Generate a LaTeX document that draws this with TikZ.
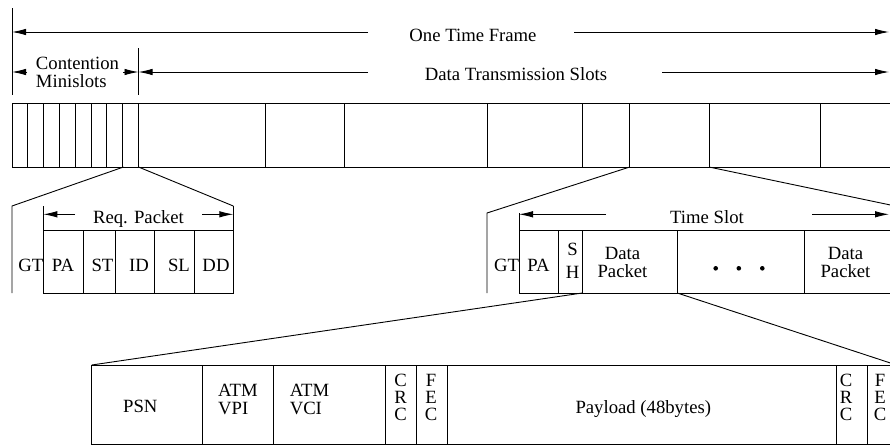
\documentclass[tikz,border=0pt]{standalone}
\usepackage{fontspec}
\setmainfont{Liberation Serif}
\usetikzlibrary{arrows.meta}
% stacked lines; the box baseline is the baseline of the last line
\newcommand\stackc[1]{\begin{tabular}[b]{@{}c@{}}#1\end{tabular}}
\newcommand\stackl[1]{\begin{tabular}[b]{@{}l@{}}#1\end{tabular}}
\begin{document}
\begin{tikzpicture}[x=1pt,y=-1pt,line width=0.9pt,
  lbl/.style={inner sep=0pt,anchor=base,font=\fontsize{18.7}{18.7}\selectfont},
  lbls/.style={lbl,font=\fontsize{18.7}{#1}\selectfont},
  dimarrow/.style={-{Latex[length=14pt,width=6.5pt]}},
  dot/.style={circle,fill,inner sep=0pt,minimum size=4.6pt}]
\useasboundingbox (0,0) rectangle (890,445);
\clip (0,0) rectangle (890,445);

% ---------- frame dimension lines ----------
\coordinate (fL) at (12,8);
\coordinate (fLb) at (12,95);
\coordinate (cR) at (138.5,48);
\coordinate (cRb) at (138.5,95);
\draw (fL) -- (fLb);
\draw (cR) -- (cRb);

\node[lbl] (otf) at (473,41) {One Time Frame};
\coordinate (otfL) at (12,32);
\coordinate (otfR) at (889,32);
\draw[dimarrow] (368,32) -- (otfL);
\draw[dimarrow] (574,32) -- (otfR);

\node[lbls=15,anchor=base west] (cms) at (35.5,87) {\stackl{Contention\\Minislots}};
\coordinate (cmsL) at (12,72);
\coordinate (cmsR) at (138.5,72);
\draw[dimarrow] (27,72) -- (cmsL);
\draw[dimarrow] (123,72) -- (cmsR);

\node[lbl] (dts) at (516,80) {Data Transmission Slots};
\coordinate (dtsR) at (889,72);
\draw[dimarrow] (368,72) -- (cmsR);
\draw[dimarrow] (662,72) -- (dtsR);

% ---------- time frame ----------
\draw (12,103) rectangle (900,167);
\foreach \i in {1,...,8} \draw ({12+15.8125*\i},103) -- ++(0,64);
\foreach \x in {265.5,344.7,487,582,629.7,709,820} \draw (\x,103) -- (\x,167);

% ---------- request packet ----------
\coordinate (ms7) at (123.5,167);
\coordinate (ms8) at (138.5,167);
\coordinate (rqL) at (12,206);
\coordinate (rqLb) at (12,293);
\coordinate (rqR) at (233.3,206);
\draw (ms7) -- (rqL) -- (rqLb);
\draw (ms8) -- (rqR);
\draw (43.3,206) -- (43.3,293.3);
\draw (43.3,230.7) rectangle (rqR |- 0,293.3);
\draw (rqR) -- (233.3,230.7);
\foreach \x in {83.3,115.3,154.3,194.3} \draw (\x,230.7) -- (\x,293.3);

\node[lbl] (rqp) at (138.5,223.3) {Req. Packet};
\draw[dimarrow] (75,214.3) -- (43.3,214.3);
\draw[dimarrow] (202,214.3) -- (233.3,214.3);

\node[lbl] (rGT) at (30.8,271) {GT};
\node[lbl] (rPA) at (63,271) {PA};
\node[lbl] (rST) at (102.5,271) {ST};
\node[lbl] (rID) at (139,271) {ID};
\node[lbl] (rSL) at (179,271) {SL};
\node[lbl] (rDD) at (216,271) {DD};

% ---------- time slot ----------
\coordinate (s5) at (629.7,167);
\coordinate (s6) at (709,167);
\coordinate (tsL) at (487,213);
\coordinate (tsLb) at (487,293);
\coordinate (tsR) at (900,207);
\draw (s5) -- (tsL) -- (tsLb);
\draw (s6) -- (tsR);
\draw (519,213) -- (519,293);
\draw (519,230.7) rectangle (905,293);
\foreach \x in {558.3,582.3,677.3,804} \draw (\x,230.7) -- (\x,293);

\node[lbl] (tsl) at (707,223.3) {Time Slot};
\draw[dimarrow] (606,214.3) -- (519,214.3);
\draw[dimarrow] (812,214.3) -- (889,214.3);

\node[lbl] (tGT) at (506.5,271) {GT};
\node[lbl] (tPA) at (538.5,271) {PA};
\node[lbls=23] (tSH) at (572.5,278.3) {\stackc{S\\H}};
\node[lbls=14.7] (tDP1) at (622.5,277.3) {\stackc{Data\\Packet}};
\node[dot] (d1) at (715.7,268.3) {};
\node[dot] (d2) at (738.8,268.3) {};
\node[dot] (d3) at (762.3,268.3) {};
\node[lbls=14.7] (tDP2) at (845.5,277.3) {\stackc{Data\\Packet}};

% ---------- ATM cell ----------
\coordinate (shR) at (582.3,293);
\coordinate (dpR) at (677.3,293);
\coordinate (cL) at (91.7,365);
\coordinate (cR2) at (905,367.8);
\draw (shR) -- (cL);
\draw (dpR) -- (cR2);
\draw (cL) rectangle (905,444);
\foreach \x in {202.7,273.3,385,416.7,447.7,836,867.3} \draw (\x,365) -- (\x,444);

\node[lbl] (psn) at (140.3,412.7) {PSN};
\node[lbls=18,anchor=base west] (vpi) at (217.7,414) {\stackl{ATM\\VPI}};
\node[lbls=18,anchor=base west] (vci) at (289.3,414) {\stackl{ATM\\VCI}};
\node[lbls=15.7] (crc1) at (400.5,420.7) {\stackc{C\\R\\C}};
\node[lbls=15.7] (fec1) at (431,420.7) {\stackc{F\\E\\C}};
\node[lbl] (pay) at (643.3,413) {Payload (48bytes)};
\node[lbls=15.7] (crc2) at (846,420.7) {\stackc{C\\R\\C}};
\node[lbls=15.7] (fec2) at (880,420.7) {\stackc{F\\E\\C}};
\end{tikzpicture}
\end{document}
